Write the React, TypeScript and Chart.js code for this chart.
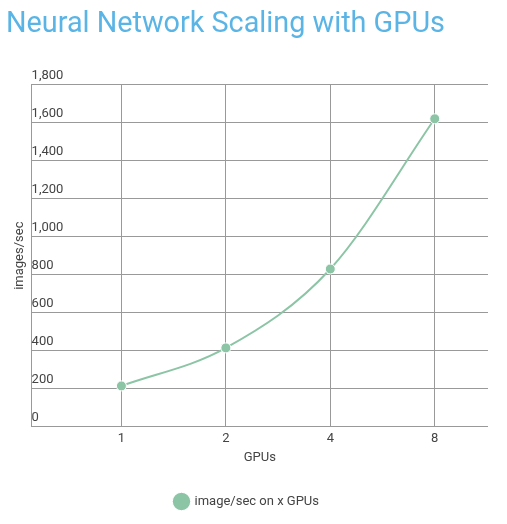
import React, { useEffect, useRef } from "react";
import { Chart, registerables } from "chart.js";

Chart.register(...registerables);

const chartTitle = "Neural Network Scaling with GPUs";
const gpuLabels = ["1", "2", "4", "8"];
const imagesPerSec = [215, 415, 830, 1620];
const seriesName = "image/sec on x GPUs";
const yTicks = [0, 200, 400, 600, 800, 1000, 1200, 1400, 1600, 1800];

export default function App() {
  const ref = useRef<HTMLCanvasElement | null>(null);

  useEffect(() => {
    document.body.style.margin = "0";
    const ctx = ref.current!;
    const chart = new Chart(ctx, {
      type: "line",
      data: {
        datasets: [
          {
            label: seriesName,
            data: imagesPerSec.map((v, i) => ({ x: i, y: v })),
            borderColor: "#8CC5A5",
            backgroundColor: "#8CC5A5",
            borderWidth: 2,
            pointRadius: 5,
            pointBorderColor: "#ffffff",
            pointBorderWidth: 1,
            pointBackgroundColor: "#8CC5A5",
            cubicInterpolationMode: "monotone",
          },
        ],
      },
      options: {
        animation: false,
        responsive: false,
        layout: { padding: { left: 6, right: 19, top: 0, bottom: 6 } },
        font: { family: "Roboto" },
        plugins: {
          title: {
            display: true,
            text: chartTitle,
            align: "start",
            color: "#5AB4E5",
            font: { family: "Roboto", size: 28.8, weight: "normal" },
            padding: { top: 8, bottom: 42 },
          },
          legend: {
            position: "bottom",
            labels: {
              usePointStyle: true,
              pointStyle: "circle",
              boxWidth: 16,
              boxHeight: 16,
              padding: 10,
              color: "#444",
              font: { family: "Roboto", size: 13 },
            },
          },
          tooltip: { enabled: false },
        },
        scales: {
          x: {
            type: "linear",
            min: -0.86,
            max: 3.51,
            afterBuildTicks: (axis: any) => {
              axis.ticks = gpuLabels.map((_, i) => ({ value: i }));
            },
            ticks: {
              callback: (v: any) => gpuLabels[v] ?? "",
              color: "#444",
              font: { family: "Roboto", size: 13 },
              padding: 4,
              maxRotation: 0,
            },
            grid: { color: "#999", drawTicks: false },
            border: { display: false },
            title: {
              display: true,
              text: "GPUs",
              color: "#444",
              font: { family: "Roboto", size: 13 },
              padding: { top: 0, bottom: 19 },
            },
          },
          y: {
            min: 0,
            max: 1800,
            afterBuildTicks: (axis: any) => {
              axis.ticks = yTicks.map((v) => ({ value: v }));
            },
            ticks: {
              mirror: true,
              padding: 0,
              labelOffset: -9,
              color: "#444",
              font: { family: "Roboto", size: 13 },
            },
            grid: { color: "#999", drawTicks: false },
            border: { display: true, color: "#999" },
            title: {
              display: true,
              text: "images/sec",
              color: "#444",
              font: { family: "Roboto", size: 13 },
              padding: { top: 6, bottom: 4 },
            },
          },
        },
      },
    });
    return () => chart.destroy();
  }, []);

  return <canvas ref={ref} width={507} height={524} style={{ display: "block" }} />;
}
